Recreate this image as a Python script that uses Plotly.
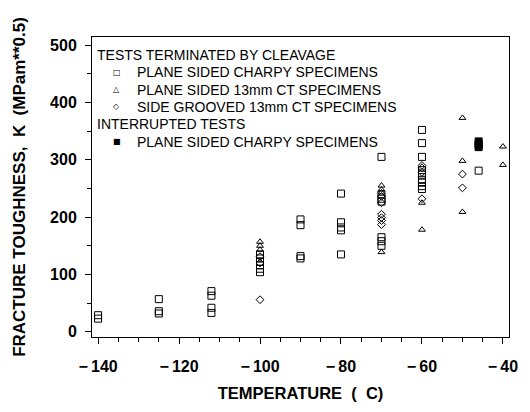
import plotly.graph_objects as go

# ---- data ----
charpy_T = [-140, -140,
            -125, -125, -125,
            -112, -112, -112, -112,
            -100, -100, -100, -100, -100, -100,
            -90, -90, -90, -90,
            -80, -80, -80, -80, -80,
            -70, -70, -70, -70, -70, -70, -70,
            -60, -60, -60, -60, -60, -60, -60, -60, -60,
            -46]
charpy_K = [29, 23,
            57, 36, 32,
            71, 63, 42, 33,
            135, 128, 122, 116, 110, 104,
            196, 186, 132, 128,
            241, 191, 182, 177, 135,
            305, 240, 232, 227, 165, 158, 150,
            352, 329, 305, 282, 274, 265, 260, 254, 249,
            281]

ct_T = [-100, -100, -100, -70, -70, -70, -70, -60, -60, -50, -50, -50, -40, -40]
ct_K = [157, 150, 143, 255, 248, 243, 139, 225, 178, 373, 298, 209, 323, 291]

sg_T = [-100, -100, -100, -70, -70, -70, -70, -70, -70, -60, -60, -60, -60, -50, -50]
sg_K = [131, 120, 56, 236, 225, 205, 199, 194, 187, 290, 286, 278, 232, 275, 251]

int_T = [-46, -46, -46, -46]
int_K = [332, 328, 325, 322]

x_tick_vals = [-140, -120, -100, -80, -60, -40]
x_tick_text = ["\u2212\u2009140", "\u2212\u2009120", "\u2212\u2009100",
               "\u2212\u200980", "\u2212\u200960", "\u2212\u200940"]
y_tick_vals = [0, 100, 200, 300, 400, 500]

# legend rows: (symbol, text); symbol None => group heading
legend_rows = [
    (None, "TESTS TERMINATED BY CLEAVAGE"),
    ("\u25A1", "PLANE SIDED CHARPY SPECIMENS"),
    ("\u25B3", "PLANE SIDED 13mm CT SPECIMENS"),
    ("\u25C7", "SIDE GROOVED 13mm CT SPECIMENS"),
    (None, "INTERRUPTED TESTS"),
    ("\u25A0", "PLANE SIDED CHARPY SPECIMENS"),
]

FONT = "Arial, Liberation Sans, Helvetica, sans-serif"
NB = "\u00a0"

W, H = 530, 412
ML, MR, MT, MB = 92, 13, 37, 74
PW, PH = W - ML - MR, H - MT - MB

def px2paper(xp, yp):
    return (xp - ML) / PW, (H - MB - yp) / PH

fig = go.Figure()
fig.add_trace(go.Scatter(
    x=charpy_T, y=charpy_K, mode="markers", name="PLANE SIDED CHARPY SPECIMENS",
    marker=dict(symbol="square-open", size=7, color="black", line=dict(width=1, color="black"))))
fig.add_trace(go.Scatter(
    x=ct_T, y=ct_K, mode="markers", name="PLANE SIDED 13mm CT SPECIMENS",
    marker=dict(symbol="triangle-up-open", size=6, color="black", line=dict(width=1, color="black"))))
fig.add_trace(go.Scatter(
    x=sg_T, y=sg_K, mode="markers", name="SIDE GROOVED 13mm CT SPECIMENS",
    marker=dict(symbol="diamond-open", size=6, color="black", line=dict(width=1, color="black"))))
fig.add_trace(go.Scatter(
    x=int_T, y=int_K, mode="markers", name="PLANE SIDED CHARPY SPECIMENS (INTERRUPTED)",
    marker=dict(symbol="square", size=7, color="black", line=dict(width=1, color="black"))))

# legend drawn as text annotations
row0, row_step = 55.0, 17.4
for i, (sym, txt) in enumerate(legend_rows):
    yp = row0 + i * row_step
    if sym is None:
        x, y = px2paper(95, yp)
        fig.add_annotation(x=x, y=y, xref="paper", yref="paper", text=txt,
                           showarrow=False, xanchor="left", yanchor="middle",
                           font=dict(family=FONT, size=14, color="black"))
    else:
        xs, y = px2paper(117, yp)
        fig.add_annotation(x=xs, y=y, xref="paper", yref="paper", text=sym,
                           showarrow=False, xanchor="center", yanchor="middle",
                           font=dict(family="DejaVu Sans", size=8, color="black"))
        x, _ = px2paper(136, yp)
        fig.add_annotation(x=x, y=y, xref="paper", yref="paper", text=txt,
                           showarrow=False, xanchor="left", yanchor="middle",
                           font=dict(family=FONT, size=14, color="black"))

fig.update_layout(
    width=W, height=H,
    margin=dict(l=ML, r=MR, t=MT, b=MB),
    paper_bgcolor="white", plot_bgcolor="white",
    font=dict(family=FONT, color="black", size=13),
    showlegend=False,
)
fig.update_xaxes(
    range=[-141.5, -38.5], showgrid=False, zeroline=False,
    showline=True, linecolor="black", linewidth=1, mirror=True,
    ticks="outside", ticklen=6, tickcolor="black",
    tickvals=x_tick_vals, ticktext=x_tick_text, ticklabelstandoff=9,
    tickfont=dict(family=FONT, size=16, color="black", weight="bold"),
    minor=dict(ticks="outside", ticklen=4, dtick=5, tickcolor="black", showgrid=False),
    title=dict(text="TEMPERATURE" + NB * 2 + "(" + NB * 2 + "C)" + NB * 2, standoff=13,
               font=dict(family=FONT, size=16.5, color="black", weight="bold")),
)
fig.update_yaxes(
    range=[-9, 514], showgrid=False, zeroline=False,
    showline=True, linecolor="black", linewidth=1, mirror=True,
    ticks="outside", ticklen=6, tickcolor="black",
    tickvals=y_tick_vals, ticklabelstandoff=5,
    tickfont=dict(family=FONT, size=16, color="black", weight="bold"),
    minor=dict(ticks="outside", ticklen=4, dtick=50, tickcolor="black", showgrid=False),
    title=dict(text=NB * 4 + "FRACTURE TOUGHNESS," + NB * 2 + "K" + NB * 2 + "(MPam**0.5)",
               standoff=20,
               font=dict(family=FONT, size=17, color="black", weight="bold")),
)

fig.write_html("out.html",
               config={"displayModeBar": False},
               post_script="document.body.style.margin='0';document.body.style.overflow='hidden';")
